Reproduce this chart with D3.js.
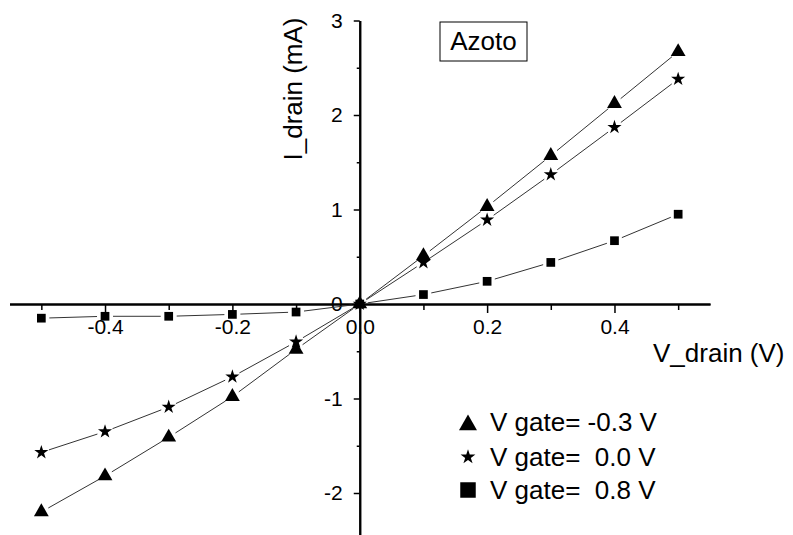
<!DOCTYPE html>
<html>
<head>
<meta charset="utf-8">
<script src="https://cdn.jsdelivr.net/npm/d3@7"></script>
<style>
  body { margin: 0; background: #fff; }
  svg { display: block; font-family: "Liberation Sans", Arial, sans-serif; }
</style>
</head>
<body>
<svg id="chart"></svg>
<script>
// Configuration
const width = 793;
const height = 535;
const fontFamily = "Liberation Sans, Arial, sans-serif";

// Data
const vDrain = [-0.5, -0.4, -0.3, -0.2, -0.1, 0, 0.1, 0.2, 0.3, 0.4, 0.5];
const iGateNeg03 = [-2.20, -1.82, -1.41, -0.98, -0.48, 0, 0.51, 1.03, 1.57, 2.12, 2.67];
const iGate00 = [-1.57, -1.35, -1.09, -0.77, -0.40, 0, 0.44, 0.89, 1.37, 1.87, 2.38];
const iGate08 = [-0.15, -0.13, -0.13, -0.11, -0.085, 0, 0.10, 0.24, 0.44, 0.67, 0.95];

const xMajor = [-0.4, -0.2, 0, 0.2, 0.4];
const xMinor = [-0.5, -0.3, -0.1, 0.1, 0.3, 0.5];
const yMajor = [-2, -1, 0, 1, 2, 3];
const yMinor = [-1.5, -0.5, 0.5, 1.5, 2.5];

const seriesNames = ["V gate= -0.3 V", "V gate=  0.0 V", "V gate=  0.8 V"];

const series = [
    {name: seriesNames[0], values: iGateNeg03, symbol: d3.symbolTriangle, size: 95, legendSize: 140, legendDy: 3},
    {name: seriesNames[1], values: iGate00, symbol: d3.symbolStar, size: 62, legendSize: 68, legendDy: 0},
    {name: seriesNames[2], values: iGate08, symbol: d3.symbolSquare, size: 76, legendSize: 240, legendDy: 0}
];

const svg = d3.select("#chart")
    .attr("width", width)
    .attr("height", height);

// Scales
const x = d3.scaleLinear().domain([-0.55, 0.55]).range([9.5, 710]);
const y = d3.scaleLinear().domain([-2.5, 3]).range([304 + 2.5 * 94.5, 304 - 3 * 94.5]);

// X axis (crosses at y = 0)
const xAxisG = svg.append("g").attr("transform", `translate(0,${y(0)})`);
xAxisG.append("g")
    .call(d3.axisBottom(x).tickValues(xMinor).tickSize(6).tickSizeOuter(0).tickFormat(""));
xAxisG.append("g")
    .call(d3.axisBottom(x).tickValues(xMajor).tickSize(9).tickSizeOuter(0).tickPadding(6))
    .call(g => g.selectAll("text")
        .style("font-size", "21px").attr("fill", "#000").style("font-family", fontFamily)
        .text(d => d3.format(".1f")(d).replace("−", "-")));
xAxisG.selectAll(".domain").attr("stroke", "#000").attr("stroke-width", 2);
xAxisG.selectAll(".tick line").attr("stroke", "#000").attr("stroke-width", 1.5);

// Y axis (crosses at x = 0)
const yAxisG = svg.append("g").attr("transform", `translate(${x(0)},0)`);
yAxisG.append("g")
    .call(d3.axisLeft(y).tickValues(yMinor).tickSize(3).tickSizeOuter(0).tickFormat(""));
yAxisG.append("g")
    .call(d3.axisLeft(y).tickValues(yMajor).tickSize(6).tickSizeOuter(0).tickPadding(11))
    .call(g => g.selectAll("text")
        .style("font-size", "21px").attr("fill", "#000").style("font-family", fontFamily)
        .text(d => String(d)));
yAxisG.selectAll(".domain").attr("stroke", "#000").attr("stroke-width", 2);
yAxisG.selectAll(".tick line").attr("stroke", "#000").attr("stroke-width", 1.5);

// Axis titles
svg.append("text")
    .attr("x", 653).attr("y", 362)
    .style("font-size", "26px")
    .text("V_drain (V)");

svg.append("text")
    .attr("transform", "translate(302,89) rotate(-90)")
    .attr("text-anchor", "middle")
    .style("font-size", "26px")
    .text("I_drain (mA)");

// Series: segments with a gap around each marker
const gap = 8;
series.forEach(s => {
    const pts = vDrain.map((v, i) => [x(v), y(s.values[i])]);
    const segs = d3.pairs(pts).map(([a, b]) => {
        const dx = b[0] - a[0], dy = b[1] - a[1];
        const len = Math.hypot(dx, dy);
        if (len <= 2 * gap) return null;
        const ux = dx / len, uy = dy / len;
        return [[a[0] + ux * gap, a[1] + uy * gap], [b[0] - ux * gap, b[1] - uy * gap]];
    }).filter(d => d);

    svg.append("g").selectAll("line")
        .data(segs)
        .join("line")
        .attr("x1", d => d[0][0]).attr("y1", d => d[0][1])
        .attr("x2", d => d[1][0]).attr("y2", d => d[1][1])
        .attr("stroke", "#333")
        .attr("stroke-width", 1);

    svg.append("g").selectAll("path")
        .data(pts)
        .join("path")
        .attr("transform", d => `translate(${d[0]},${d[1]})`)
        .attr("d", d3.symbol().type(s.symbol).size(s.size))
        .attr("fill", "#000");
});

// Title box
const titleG = svg.append("g");
titleG.append("rect")
    .attr("x", 440).attr("y", 22).attr("width", 87).attr("height", 39)
    .attr("fill", "#fff").attr("stroke", "#000").attr("stroke-width", 1);
titleG.append("text")
    .attr("x", 483.5).attr("y", 50)
    .attr("text-anchor", "middle")
    .style("font-size", "26px")
    .text("Azoto");

// Legend
const legendRows = [422, 457, 490];
const legend = svg.append("g");
series.forEach((s, i) => {
    legend.append("path")
        .attr("transform", `translate(468,${legendRows[i] + s.legendDy})`)
        .attr("d", d3.symbol().type(s.symbol).size(s.legendSize))
        .attr("fill", "#000");
    legend.append("text")
        .attr("x", 490).attr("y", legendRows[i])
        .attr("dy", "0.35em")
        .style("font-size", "26px")
        .style("white-space", "pre")
        .text(s.name);
});
</script>
</body>
</html>
